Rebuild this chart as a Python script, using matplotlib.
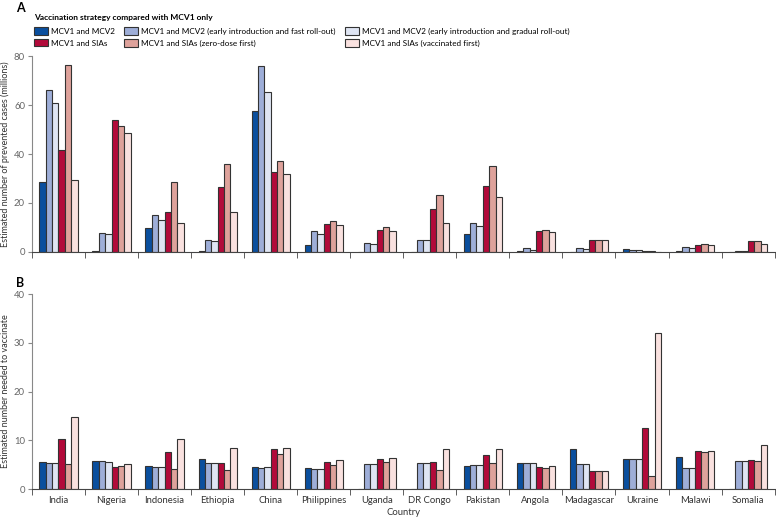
import numpy as np
import matplotlib.pyplot as plt
from matplotlib.patches import Patch

plt.rcParams['font.family'] = ['Lato', 'DejaVu Sans']

countries = ['India', 'Nigeria', 'Indonesia', 'Ethiopia', 'China', 'Philippines', 'Uganda',
             'DR Congo', 'Pakistan', 'Angola', 'Madagascar', 'Ukraine', 'Malawi', 'Somalia']

strategies = ['MCV1 and MCV2',
              'MCV1 and MCV2 (early introduction and fast roll-out)',
              'MCV1 and MCV2 (early introduction and gradual roll-out)',
              'MCV1 and SIAs',
              'MCV1 and SIAs (zero-dose first)',
              'MCV1 and SIAs (vaccinated first)']
colors = ['#0a4f9e', '#9eaed8', '#dfe5f3', '#b20a3a', '#dea29b', '#f9e1df']

# panel A: prevented cases (millions)
prev_mcv2 = [28.4, 0.3, 9.8, 0.4, 57.5, 3.0, 0.0, 0.0, 7.2, 0.4, 0.1, 1.1, 0.3, 0.0]
prev_fast = [66.2, 7.8, 15.1, 4.8, 75.8, 8.6, 3.5, 5.0, 12.0, 1.5, 1.5, 1.0, 1.9, 0.4]
prev_grad = [60.8, 7.4, 13.2, 4.5, 65.2, 7.4, 3.1, 4.8, 10.8, 1.0, 1.2, 1.0, 1.5, 0.4]
prev_sia = [41.6, 53.8, 16.2, 26.4, 32.7, 11.4, 8.9, 17.6, 26.9, 8.7, 5.0, 0.4, 2.9, 4.6]
prev_zero = [76.5, 51.4, 28.4, 36.0, 37.3, 12.7, 10.2, 23.4, 35.2, 8.9, 5.0, 0.3, 3.1, 4.6]
prev_vacc = [29.3, 48.5, 12.0, 16.2, 31.9, 11.0, 8.6, 12.0, 22.5, 8.2, 5.0, 0.1, 2.9, 3.1]

# panel B: number needed to vaccinate
nnv_mcv2 = [5.5, 5.8, 4.8, 6.1, 4.6, 4.4, 0.0, 0.0, 4.8, 5.3, 8.2, 6.1, 6.6, 0.0]
nnv_fast = [5.3, 5.7, 4.6, 5.3, 4.4, 4.1, 5.1, 5.3, 4.9, 5.3, 5.1, 6.2, 4.4, 5.8]
nnv_grad = [5.3, 5.6, 4.6, 5.3, 4.5, 4.1, 5.1, 5.3, 4.9, 5.3, 5.1, 6.2, 4.4, 5.8]
nnv_sia = [10.2, 4.5, 7.6, 5.3, 8.2, 5.6, 6.2, 5.6, 7.0, 4.5, 3.6, 12.6, 7.8, 5.9]
nnv_zero = [5.2, 4.8, 4.2, 3.8, 7.2, 4.9, 5.5, 4.0, 5.3, 4.4, 3.6, 2.7, 7.6, 5.7]
nnv_vacc = [14.7, 5.1, 10.2, 8.5, 8.5, 5.9, 6.4, 8.3, 8.3, 4.7, 3.6, 31.9, 7.8, 9.0]

series_a = [prev_mcv2, prev_fast, prev_grad, prev_sia, prev_zero, prev_vacc]
series_b = [nnv_mcv2, nnv_fast, nnv_grad, nnv_sia, nnv_zero, nnv_vacc]

fig = plt.figure(figsize=(7.76, 5.19), dpi=100)
ax1 = fig.add_axes([0.0412, 0.5145, 0.957, 0.3775])
ax2 = fig.add_axes([0.0412, 0.0578, 0.957, 0.3757])

x = np.arange(len(countries))
w = 0.12
spine_c = '#444444'

def draw(ax, series, ymax, ylabel, show_names):
    for k, vals in enumerate(series):
        ax.bar(x + 0.5 + (k - 2.5) * w, vals, width=w, color=colors[k],
               edgecolor='#333333', linewidth=0.8)
    ax.set_xlim(0, len(countries))
    ax.set_ylim(0, ymax)
    ax.set_yticks(np.linspace(0, ymax, 5))
    ax.spines['top'].set_visible(False)
    ax.spines['right'].set_visible(False)
    ax.spines['left'].set_color('#888888')
    ax.spines['bottom'].set_color(spine_c)
    ax.spines['left'].set_bounds(0, ymax)
    ax.set_xticks(np.arange(0, len(countries) + 1), minor=True)
    ax.set_xticks(x + 0.5)
    ax.tick_params(axis='x', which='major', length=0, labelsize=6.8, pad=5, colors='#333333')
    ax.tick_params(axis='x', which='minor', length=4, color=spine_c)
    ax.tick_params(axis='y', length=3, labelsize=6.8, colors='#666666', color='#888888', pad=2)
    if show_names:
        ax.set_xticklabels(countries)
    else:
        ax.set_xticklabels([])
    ax.set_ylabel(ylabel, fontsize=6.5, color='#333333', labelpad=3)

draw(ax1, series_a, 80, 'Estimated number of prevented cases (millions)', False)
draw(ax2, series_b, 40, 'Estimated number needed to vaccinate', True)
ax2.set_xlabel('Country', fontsize=6.8, color='#333333', labelpad=2)

fig.text(0.021, 0.985, 'A', fontsize=9, fontweight='bold', va='center')
fig.text(0.021, 0.455, 'B', fontsize=9, fontweight='bold', va='center')

handles = [Patch(facecolor=c, edgecolor='#333333', linewidth=0.8) for c in colors]
order = [0, 3, 1, 4, 2, 5]
leg = fig.legend([handles[i] for i in order], [strategies[i] for i in order],
                 ncol=3, loc='upper left', bbox_to_anchor=(0.036, 0.985),
                 frameon=False, fontsize=5.9, title='Vaccination strategy compared with MCV1 only',
                 title_fontproperties={'weight': 'bold', 'size': 6.0},
                 handlelength=1.7, handleheight=1.0, handletextpad=0.4,
                 columnspacing=1.1, labelspacing=0.5, borderpad=0.2)
leg._legend_box.align = 'left'
leg._legend_box.sep = 5

fig.savefig('out.png', dpi=100)
